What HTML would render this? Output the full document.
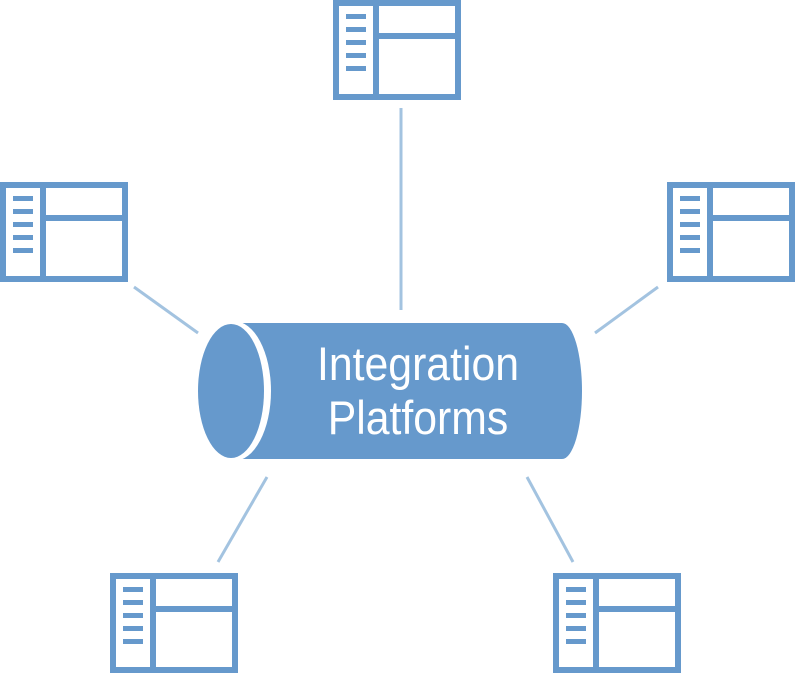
<!DOCTYPE html>
<html><head><style>
html,body{margin:0;padding:0;background:#fff;}
svg{display:block;}
</style></head><body>
<svg width="800" height="675" viewBox="0 0 800 675" xmlns="http://www.w3.org/2000/svg">
<defs>
<g id="ic">
<rect x="3" y="3" width="122" height="94" fill="#fff" stroke="#6699cc" stroke-width="6"/>
<rect x="40" y="3" width="6" height="94" fill="#6699cc"/>
<rect x="43" y="33" width="82" height="6" fill="#6699cc"/>
<rect x="13" y="14" width="20" height="5" fill="#6699cc"/>
<rect x="13" y="27" width="20" height="5" fill="#6699cc"/>
<rect x="13" y="40" width="20" height="5" fill="#6699cc"/>
<rect x="13" y="53" width="20" height="5" fill="#6699cc"/>
<rect x="13" y="66" width="20" height="5" fill="#6699cc"/>
</g>
</defs>
<g stroke="#a3c3e0" stroke-width="3">
<line x1="401" y1="108" x2="401" y2="310"/>
<line x1="134" y1="287" x2="198" y2="333"/>
<line x1="595" y1="333" x2="658" y2="287"/>
<line x1="267" y1="477" x2="218" y2="562"/>
<line x1="527" y1="477" x2="573" y2="562"/>
</g>
<use href="#ic" x="333" y="0"/>
<use href="#ic" x="0" y="182"/>
<use href="#ic" x="667" y="182"/>
<use href="#ic" x="110" y="573"/>
<use href="#ic" x="553" y="573"/>
<path d="M240 323 L562 323 A20 68 0 0 1 562 459 L240 459 Z" fill="#6699cc"/>
<ellipse cx="234" cy="391" rx="37" ry="70" fill="#fff"/>
<ellipse cx="231" cy="391" rx="33" ry="67" fill="#6699cc"/>
<g fill="#fff" font-family="Liberation Sans, sans-serif" font-size="47" text-anchor="middle">
<text x="418" y="380" transform="translate(418 0) scale(0.91 1) translate(-418 0)">Integration</text>
<text x="418" y="434" transform="translate(418 0) scale(0.91 1) translate(-418 0)">Platforms</text>
</g>
</svg>
</body></html>
